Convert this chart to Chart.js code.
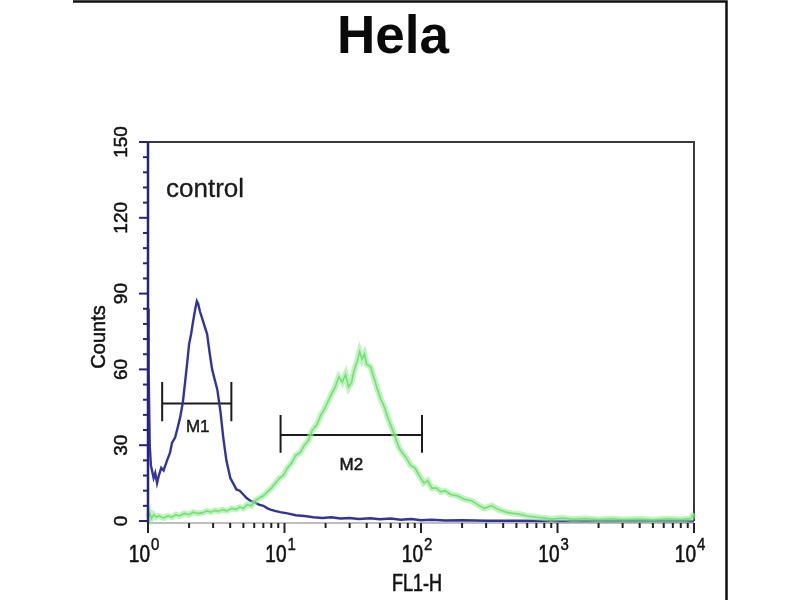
<!DOCTYPE html>
<html><head><meta charset="utf-8">
<style>html,body{margin:0;padding:0;background:#fff}#wrap{width:800px;height:600px;position:relative}</style>
<script src="https://cdn.jsdelivr.net/npm/chart.js@4.4.0/dist/chart.umd.min.js"></script>
</head><body><div id="wrap"><canvas id="c" width="800" height="600"></canvas></div>
<script>
// ---- data ----
const chartTitle = 'Hela';
const xTitle = 'FL1-H';
const yTitle = 'Counts';
const sampleLabel = 'control';
const yTickValues = [0, 30, 60, 90, 120, 150];
const xDecades = [1, 10, 100, 1000, 10000];
const xExponents = ['0', '1', '2', '3', '4'];

const blueFL = [1.00,1.01,1.03,1.05,1.07,1.10,1.13,1.165,1.20,1.25,1.30,1.38,1.45,1.50,1.58,1.65,1.72,1.80,1.87,1.94,2.00,2.07,2.14,2.22,2.28,2.33,2.40,2.50,2.60,2.71,2.82,2.95,3.08,3.22,3.40,3.56,3.75,4.01,4.20,4.44,4.70,4.99,5.30,5.62,6.00,6.50,7.00,7.50,7.90,8.50,9.30,10.5,12.1,14,16.3,19,22,25.7,30,35,42.7,50,60,71,85,100,120,150,200,300,500,1000,3000,10000];
const blueCounts = [84,60,30,22,20,17,19,15,18,21,20,24,27,31,33,37,41,47,55,63,70,74,79,84,87,86,83,80,77,74,67,60,56,52,43,33,24,17,15,12.5,12,10.5,9,8,7.5,6.5,6,5,4.5,4,3.5,3,2.3,2,1.5,1.2,1.5,1.0,1.2,0.8,1.1,0.7,1.0,0.5,0.8,0.3,0.5,0.2,0.3,0.1,0.1,0,0,0];

const greenFL = [1.00,1.03,1.06,1.10,1.15,1.20,1.30,1.40,1.50,1.60,1.70,1.85,2.00,2.15,2.30,2.50,2.70,2.90,3.10,3.30,3.50,3.80,4.10,4.40,4.70,5.00,5.34,5.70,6.10,6.50,7.00,7.50,8.00,8.60,9.20,9.80,10.5,11.3,12.1,13,14,15,16,17.2,18.5,19.5,20.7,22,23.5,25,26.5,28,29.5,31,32.5,34,35.5,37,38.5,40,42.7,45,48,51,54,57,61,65,69,73,78,84,90,97,105,112,120,130,140,150,165,185,210,235,260,290,330,370,420,470,520,600,700,800,900,1100,1300,1600,2000,2500,3000,4000,5000,6500,8000,9500,10000];
const greenCounts = [1.5,3,1,2.5,1.5,2,1.2,2,1.5,2.5,2,3,2.5,3.5,3,3.2,4,3.5,4.2,3.8,4.5,4,5,4.6,5.5,5,6.5,6,8,9,10,11.5,13,15,17,18,21,23,26,27,30,32,36,38,42,44,47,50,53,57,55,58,53,55,60,63,67,64,66,62,61,57,52,48,45,41,37,33,29,27,25,22,21,18,15,16,13,13,11.5,12,10.5,10,8.5,8,6.5,5,6,4.5,3.5,3,2.8,2,1.5,1.2,0.8,1.2,0.7,1,0.6,0.9,0.6,0.8,0.5,0.9,0.6,1,3];

// markers: [low, high] on FL1-H, bar level and tick extent in counts
const m1Range = [1.27, 4.08], m1Level = 46.5, m1TickSpan = [39.5, 55];
const m2Range = [9.36, 101.7], m2Level = 34, m2TickSpan = [27, 42];
const markerNames = ['M1', 'M2'];

// ---- build ----
const FF = '"Liberation Sans", Arial, Helvetica, sans-serif';
const pts = (xs, ys) => xs.map((v, i) => ({x: v, y: ys[i]}));
function markerData(r, lvl, span){
  return [
    {x:r[0], y:span[0]}, {x:r[0], y:span[1]}, {x:r[0], y:null},
    {x:r[0], y:lvl}, {x:r[1], y:lvl}, {x:r[1], y:null},
    {x:r[1], y:span[0]}, {x:r[1], y:span[1]}
  ];
}
function T(ctx, s, x, y, o){
  ctx.save(); ctx.translate(x, y); if (o.rot) ctx.rotate(o.rot);
  ctx.scale(o.sx || 1, o.sy || 1);
  ctx.font = o.font; ctx.fillStyle = o.color || '#111';
  ctx.textAlign = o.align || 'center'; ctx.textBaseline = o.base || 'alphabetic';
  ctx.fillText(s, 0, 0);
  if (o.heavy){ ctx.strokeStyle = ctx.fillStyle; ctx.lineWidth = o.heavy; ctx.strokeText(s, 0, 0); }
  ctx.restore();
}

const deco = {
  id: 'deco',
  beforeDatasetsDraw(chart){
    const {ctx, chartArea: a} = chart;
    ctx.save();
    ctx.strokeStyle = '#3a3a3a'; ctx.lineWidth = 2;
    ctx.beginPath(); ctx.moveTo(a.left, a.top); ctx.lineTo(a.right, a.top); ctx.lineTo(a.right, a.bottom); ctx.stroke();
    ctx.strokeStyle = '#a8a8a8'; ctx.lineWidth = 1.5;
    ctx.beginPath(); ctx.moveTo(a.left, a.bottom + 2); ctx.lineTo(a.right, a.bottom + 2); ctx.stroke();
    ctx.restore();
  },
  afterDraw(chart){
    const {ctx, chartArea: a, scales: {x, y}} = chart;
    ctx.save();
    ctx.strokeStyle = '#111'; ctx.lineWidth = 2.5;
    ctx.beginPath(); ctx.moveTo(73, 1.5); ctx.lineTo(726.5, 1.5); ctx.lineTo(726.5, 600); ctx.stroke();
    ctx.strokeStyle = '#24247e'; ctx.lineWidth = 2.5;
    ctx.beginPath(); ctx.moveTo(a.left, a.top); ctx.lineTo(a.left, a.bottom + 2); ctx.stroke();
    ctx.lineWidth = 2;
    for (let v = 0; v <= 150; v += 6){
      const py = y.getPixelForValue(v);
      const len = (v % 30 === 0) ? 9 : 5;
      ctx.beginPath(); ctx.moveTo(a.left - len, py); ctx.lineTo(a.left, py); ctx.stroke();
    }
    ctx.strokeStyle = '#222'; ctx.lineWidth = 2;
    xDecades.forEach((d, i) => {
      const top = i < xDecades.length - 1 ? 10 : 1;
      for (let k = 1; k < top; k++){
        const px = x.getPixelForValue(d * k);
        const len = k === 1 ? 10 : 5;
        ctx.beginPath(); ctx.moveTo(px, a.bottom + 2); ctx.lineTo(px, a.bottom + 2 + len); ctx.stroke();
      }
      if (i === xDecades.length - 1){
        const px = x.getPixelForValue(d);
        ctx.beginPath(); ctx.moveTo(px, a.bottom + 2); ctx.lineTo(px, a.bottom + 12); ctx.stroke();
      }
    });
    ctx.restore();
    yTickValues.forEach(v => {
      T(ctx, String(v), 127, y.getPixelForValue(v), {font: '19px ' + FF, rot: -Math.PI/2, color: '#111', heavy: 0.5});
    });
    T(ctx, yTitle, 105, 337, {font: '20px ' + FF, rot: -Math.PI/2, color: '#111', heavy: 0.5});
    xDecades.forEach((d, i) => {
      const px = x.getPixelForValue(d);
      T(ctx, '10', px + 2, 562, {font: '19px ' + FF, align: 'right', sy: 1.22, color: '#111', heavy: 0.5});
      T(ctx, xExponents[i], px + 3, 550, {font: '15px ' + FF, align: 'left', sy: 1.15, color: '#111', heavy: 0.4});
    });
    T(ctx, xTitle, 417, 591, {font: '18px ' + FF, sy: 1.3, color: '#111', heavy: 0.5});
    T(ctx, chartTitle, 393, 53, {font: 'bold 53px ' + FF, color: '#0a0a0a'});
    T(ctx, sampleLabel, 166, 197, {font: '26px ' + FF, align: 'left', color: '#1a1a1a', heavy: 0.3});
    T(ctx, markerNames[0], x.getPixelForValue(Math.sqrt(m1Range[0]*m1Range[1])) + 1, 432, {font: '17px ' + FF, color: '#1a1a1a', heavy: 0.5});
    T(ctx, markerNames[1], x.getPixelForValue(Math.sqrt(m2Range[0]*m2Range[1])), 470, {font: '17px ' + FF, color: '#1a1a1a', heavy: 0.5});
  }
};

new Chart(document.getElementById('c'), {
  type: 'line',
  data: {
    datasets: [
      {data: pts(greenFL, greenCounts), borderColor: 'rgba(150,235,150,0.6)', borderWidth: 6, pointRadius: 0, tension: 0, clip: 6},
      {data: pts(greenFL, greenCounts), borderColor: '#3fcf3f', borderWidth: 1.6, pointRadius: 0, tension: 0, clip: 6},
      {data: pts(blueFL, blueCounts), borderColor: '#33339c', borderWidth: 2.4, pointRadius: 0, tension: 0, clip: 6},
      {data: markerData(m1Range, m1Level, m1TickSpan), borderColor: '#1c1c1c', borderWidth: 2, pointRadius: 0, spanGaps: false, clip: false},
      {data: markerData(m2Range, m2Level, m2TickSpan), borderColor: '#1c1c1c', borderWidth: 2, pointRadius: 0, spanGaps: false, clip: false}
    ]
  },
  options: {
    responsive: false, animation: false, devicePixelRatio: 1,
    layout: {padding: {top: 142, right: 106, left: 0, bottom: 0}},
    plugins: {legend: {display: false}, tooltip: {enabled: false}, title: {display: false}},
    scales: {
      x: {type: 'logarithmic', min: 1, max: 10000,
          ticks: {display: false}, grid: {display: false}, border: {display: false},
          afterFit: s => { s.height = 79; }},
      y: {type: 'linear', min: 0, max: 150,
          ticks: {display: false}, grid: {display: false}, border: {display: false},
          afterFit: s => { s.width = 148; }}
    }
  },
  plugins: [deco]
});
</script></body></html>
